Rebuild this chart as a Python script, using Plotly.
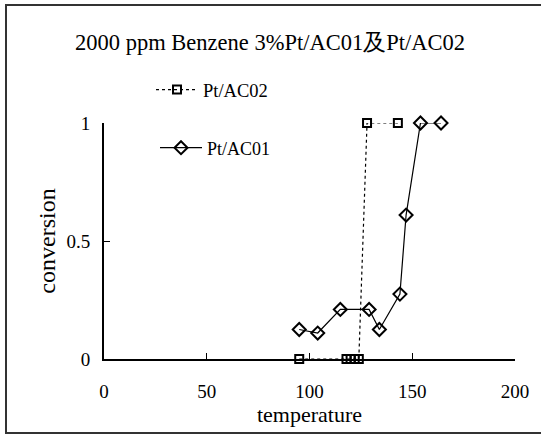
import plotly.graph_objects as go

# Data
t_ac01 = [95, 104, 115, 129, 134, 144, 147, 154, 164]
c_ac01 = [0.125, 0.11, 0.21, 0.21, 0.125, 0.275, 0.61, 1.0, 1.0]
t_ac02 = [95, 118, 120, 122, 124, 128, 143]
c_ac02 = [0.0, 0.0, 0.0, 0.0, 0.0, 1.0, 1.0]
x_ticks = [0, 50, 100, 150, 200]
y_ticks = [0, 0.5, 1]
y_tick_labels = ["0", "0.5", "1"]

FONT = "Liberation Serif, Times New Roman, serif"
W, H = 541, 438
L, R, T, B = 104, 26, 123, 79
pw, ph = W - L - R, H - T - B

def px2paper(px, py):
    return (px - L) / pw, (H - B - py) / ph

fig = go.Figure()
fig.add_trace(go.Scatter(
    x=t_ac02, y=c_ac02, mode="lines+markers", name="Pt/AC02",
    line=dict(color="black", width=1.2, dash="dot"),
    marker=dict(symbol="square-open", size=8, color="black", line=dict(width=2, color="black")),
    cliponaxis=False, legend="legend"))
fig.add_trace(go.Scatter(
    x=t_ac01, y=c_ac01, mode="lines+markers", name="Pt/AC01",
    line=dict(color="black", width=1.2),
    marker=dict(symbol="diamond-open", size=10, color="black", line=dict(width=2, color="black")),
    cliponaxis=False, legend="legend2"))

lx1, ly1 = px2paper(151, 90)
lx2, ly2 = px2paper(155, 148)
bx0, by0 = px2paper(6, 433)
bx1, by1 = px2paper(545, 5)

fig.update_layout(
    width=W, height=H,
    margin=dict(l=L, r=R, t=T, b=B),
    paper_bgcolor="white", plot_bgcolor="white",
    font=dict(family=FONT, size=18, color="black"),
    title=dict(text="2000 ppm Benzene 3%Pt/AC01及Pt/AC02", x=270 / W, xanchor="center",
               y=1 - 42 / H, yanchor="middle", font=dict(size=22.5, family=FONT)),
    xaxis=dict(range=[0, 200], tickvals=x_ticks, ticks="inside", ticklen=6, tickcolor="black",
               showline=True, linecolor="black", linewidth=2, showgrid=False, zeroline=False,
               ticklabelstandoff=14,
               title=dict(text="temperature", standoff=6, font=dict(size=22)),
               tickfont=dict(size=19)),
    yaxis=dict(range=[0, 1], tickvals=y_ticks, ticktext=y_tick_labels, ticks="inside", ticklen=6,
               tickcolor="black", showline=True, linecolor="black", linewidth=2, showgrid=False,
               zeroline=False, ticklabelstandoff=8,
               title=dict(text="conversion", standoff=4, font=dict(size=24)),
               tickfont=dict(size=19)),
    legend=dict(x=lx1, y=ly1, xanchor="left", yanchor="middle", bgcolor="rgba(0,0,0,0)",
                itemwidth=42, font=dict(size=18.5, family=FONT)),
    legend2=dict(x=lx2, y=ly2, xanchor="left", yanchor="middle", bgcolor="rgba(0,0,0,0)",
                 itemwidth=42, font=dict(size=18, family=FONT)),
    showlegend=True,
    shapes=[dict(type="rect", xref="paper", yref="paper", x0=bx0, y0=by0, x1=bx1, y1=by1,
                 line=dict(color="#333333", width=2), layer="below")],
)
fig.write_html("out.html")
